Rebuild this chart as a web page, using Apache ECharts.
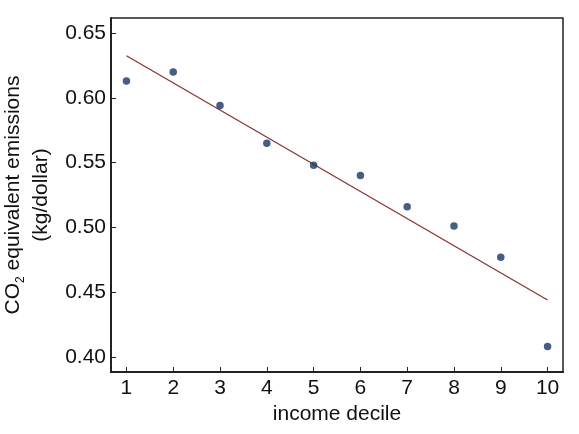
<!DOCTYPE html>
<html>
<head>
<meta charset="utf-8">
<script src="https://cdn.jsdelivr.net/npm/echarts@6/dist/echarts.min.js"></script>
<style>
  html, body { margin: 0; padding: 0; background: #fff; }
  #chart { width: 579px; height: 434px; }
</style>
</head>
<body>
<div id="chart"></div>
<script>
// income deciles and emissions
var deciles = [1, 2, 3, 4, 5, 6, 7, 8, 9, 10];
var emissions = [0.613, 0.620, 0.594, 0.565, 0.548, 0.540, 0.516, 0.501, 0.477, 0.408];
// fitted line end points
var fitX = [1, 10];
var fitY = [0.6325, 0.444];
var yTicks = [0.40, 0.45, 0.50, 0.55, 0.60, 0.65];

var font = 'Liberation Sans, Arial, Helvetica, sans-serif';

function createEmissionChart(id) {
    var chart = echarts.init(document.getElementById(id));
    var points = deciles.map(function (d, i) { return [d, emissions[i]]; });
    var fit = fitX.map(function (x, i) { return [x, fitY[i]]; });
    var option = {
        animation: false,
        backgroundColor: '#fff',
        grid: {
            left: 111,
            top: 18,
            right: 16,
            bottom: 62,
            outerBoundsMode: 'none',
            containLabel: false,
            show: true,
            borderColor: '#222',
            borderWidth: 1.5
        },
        xAxis: {
            type: 'value',
            min: 0.67,
            max: 10.33,
            name: 'income decile',
            nameLocation: 'middle',
            nameGap: 31,
            nameTextStyle: { fontFamily: font, fontSize: 21, color: '#111' },
            splitLine: { show: false },
            axisLine: { lineStyle: { color: '#222', width: 2 } },
            axisTick: { inside: true, length: 5, customValues: deciles, lineStyle: { color: '#222' } },
            axisLabel: {
                customValues: deciles,
                margin: 6,
                fontFamily: font,
                fontSize: 21,
                color: '#111'
            }
        },
        yAxis: {
            type: 'value',
            min: 0.3884,
            max: 0.6616,
            name: '{a|CO}{s|2}{a| equivalent emissions}\n{a|(kg/dollar)}',
            nameLocation: 'middle',
            nameRotate: 90,
            nameGap: 56,
            nameTextStyle: {
                fontFamily: font,
                color: '#111',
                rich: {
                    a: { fontFamily: font, fontSize: 21, lineHeight: 28, color: '#111' },
                    s: { fontFamily: font, fontSize: 12, lineHeight: 28, verticalAlign: 'bottom', color: '#111' }
                }
            },
            splitLine: { show: false },
            axisLine: { lineStyle: { color: '#222', width: 2 } },
            axisTick: { inside: true, length: 5, customValues: yTicks, lineStyle: { color: '#222' } },
            axisLabel: {
                customValues: yTicks,
                margin: 5,
                fontFamily: font,
                fontSize: 21,
                color: '#111',
                formatter: function (v) { return v.toFixed(2); }
            }
        },
        series: [
            {
                name: 'fit',
                type: 'line',
                data: fit,
                symbol: 'none',
                lineStyle: { color: '#8b3434', width: 1.3 },
                z: 2
            },
            {
                name: 'emissions',
                type: 'scatter',
                data: points,
                symbolSize: 7.5,
                itemStyle: { color: '#183662' },
                z: 3
            }
        ]
    };
    chart.setOption(option);
}

createEmissionChart('chart');
</script>
</body>
</html>
